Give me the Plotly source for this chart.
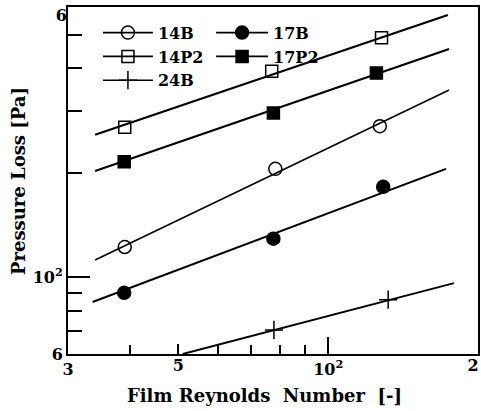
import math
import plotly.graph_objects as go

# ---- data ----
x_14B = [39, 78.3, 127]
y_14B = [122, 205, 272]
x_17B = [38.9, 77.6, 129]
y_17B = [90, 129, 182]
x_14P2 = [39, 77, 128]
y_14P2 = [270, 392, 489]
x_17P2 = [38.9, 77.6, 125]
y_17P2 = [215, 297, 387]
x_24B = [77.8, 132]
y_24B = [70.4, 86]

# fitted lines (end points)
fx_14B = [34, 175]
fy_14B = [112, 346]
fx_17B = [33.6, 172.5]
fy_17B = [84.7, 205]
fx_14P2 = [34, 174]
fy_14P2 = [257, 569]
fx_17P2 = [34, 175]
fy_17P2 = [202, 454]
fx_24B = [51, 179]
fy_24B = [60, 96]

x_tickvals = [30, 100, 200]
x_ticktext = ["3", "10<sup>2</sup>", ""]
x_tick5 = [50]
x_tick5_text = ["5"]
x_tick200 = [200]
x_tick200_text = ["2"]
x_minor = [40, 60, 70, 80, 90]
y_tickvals = [60, 100, 600]
y_ticktext = ["6", "10<sup>2</sup>", ""]
y_tick600 = [600]
y_tick600_text = ["6"]
y_minor = [70, 80, 90, 200, 300, 400, 500]

FONT = "DejaVu Serif"

series = [
    ("14B", x_14B, y_14B, fx_14B, fy_14B, "circle-open", 13, 1.6, "legend"),
    ("14P2", x_14P2, y_14P2, fx_14P2, fy_14P2, "square-open", 12, 2.2, "legend"),
    ("24B", x_24B, y_24B, fx_24B, fy_24B, "cross-thin", 13, 2.0, "legend"),
    ("17B", x_17B, y_17B, fx_17B, fy_17B, "circle", 13, 2.0, "legend2"),
    ("17P2", x_17P2, y_17P2, fx_17P2, fy_17P2, "square", 12, 2.2, "legend2"),
]

fig = go.Figure()
for name, xs, ys, fxs, fys, sym, size, lw, leg in series:
    marker = dict(symbol=sym, size=size, color="black",
                  line=dict(color="black", width=1.5))
    fig.add_trace(go.Scatter(x=fxs, y=fys, mode="lines",
                             line=dict(color="black", width=lw),
                             showlegend=False, hoverinfo="skip"))
    fig.add_trace(go.Scatter(x=xs, y=ys, mode="markers", marker=marker,
                             showlegend=False))
    fig.add_trace(go.Scatter(x=[None], y=[None], mode="lines+markers",
                             name=name, marker=marker, legend=leg,
                             line=dict(color="black", width=1.6)))

# helper traces for the overlay axes (carry single tick labels)
fig.add_trace(go.Scatter(x=[None], y=[None], xaxis="x2", showlegend=False))
fig.add_trace(go.Scatter(x=[None], y=[None], xaxis="x3", showlegend=False))
fig.add_trace(go.Scatter(x=[None], y=[None], yaxis="y2", showlegend=False))

eps = 1e-4
xr = [math.log10(30) - eps, math.log10(200) + eps]
yr = [math.log10(60) - eps, math.log10(600) + eps]
tickfont = dict(family=FONT, size=16, color="black", weight="bold")
legfont = dict(family=FONT, size=16, color="black", weight="bold")

fig.update_layout(
    width=481, height=411,
    margin=dict(l=68, r=3, t=7, b=57),
    paper_bgcolor="white", plot_bgcolor="white",
    xaxis=dict(type="log", range=xr, tickmode="array", automargin=False,
               tickvals=x_tickvals, ticktext=x_ticktext,
               ticklabeloverflow="allow",
               ticks="inside", ticklen=17, tickwidth=1.5, tickcolor="black",
               showline=True, linewidth=2, linecolor="black", mirror=True,
               showgrid=False, zeroline=False, tickfont=tickfont,
               minor=dict(tickmode="array", tickvals=x_minor, ticks="inside",
                          ticklen=9, tickwidth=1.5, tickcolor="black",
                          showgrid=False)),
    xaxis2=dict(type="log", range=xr, overlaying="x", anchor="y", side="bottom",
                automargin=False, ticklabeloverflow="allow",
                tickmode="array", tickvals=x_tick5, ticktext=x_tick5_text,
                ticks="inside", ticklen=10, tickwidth=1.5, tickcolor="black",
                showline=False, showgrid=False, zeroline=False,
                tickfont=tickfont),
    xaxis3=dict(type="log", range=xr, overlaying="x", anchor="y", side="bottom",
                automargin=False, ticklabeloverflow="allow",
                tickmode="array", tickvals=x_tick200, ticktext=x_tick200_text,
                ticklabelshift=-5, ticks="",
                showline=False, showgrid=False, zeroline=False,
                tickfont=tickfont),
    yaxis=dict(type="log", range=yr, tickmode="array", automargin=False,
               tickvals=y_tickvals, ticktext=y_ticktext,
               ticklabeloverflow="allow",
               ticks="inside", ticklen=22, tickwidth=1.5, tickcolor="black",
               showline=True, linewidth=2, linecolor="black", mirror=True,
               showgrid=False, zeroline=False, tickfont=tickfont,
               minor=dict(tickmode="array", tickvals=y_minor, ticks="inside",
                          ticklen=14, tickwidth=1.5, tickcolor="black",
                          showgrid=False)),
    yaxis2=dict(type="log", range=yr, overlaying="y", anchor="x", side="left",
                automargin=False, ticklabeloverflow="allow",
                tickmode="array", tickvals=y_tick600, ticktext=y_tick600_text,
                ticklabelshift=8, ticks="",
                showline=False, showgrid=False, zeroline=False,
                tickfont=tickfont),
    legend=dict(x=0.073, y=0.975, xanchor="left", yanchor="top",
                bgcolor="rgba(0,0,0,0)", itemwidth=50, font=legfont),
    legend2=dict(x=0.349, y=0.975, xanchor="left", yanchor="top",
                 bgcolor="rgba(0,0,0,0)", itemwidth=52, font=legfont),
    annotations=[
        dict(text="Film Reynolds  Number  [-]", xref="paper", yref="paper",
             x=(264 - 68) / 410, y=-(396 - 354) / 347, xanchor="center",
             yanchor="middle", showarrow=False,
             font=dict(family=FONT, size=18, color="black", weight="bold")),
        dict(text="Pressure Loss [Pa]", xref="paper", yref="paper",
             x=-(68 - 18) / 410, y=(354 - 181) / 347, xanchor="center",
             yanchor="middle", showarrow=False, textangle=-90,
             font=dict(family=FONT, size=18, color="black", weight="bold")),
    ],
)

fig.write_html("out.html", config={"displayModeBar": False},
               post_script="document.body.style.margin='0';")
